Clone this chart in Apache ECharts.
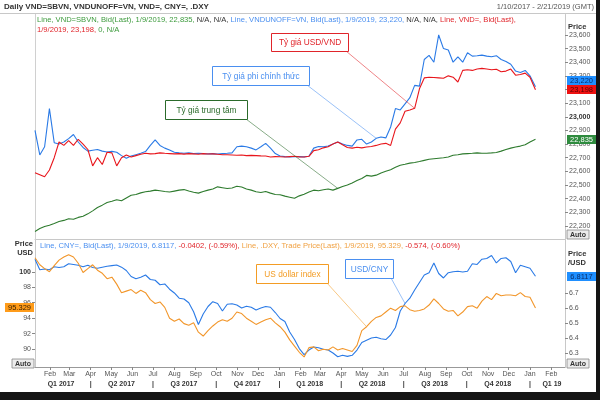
<!DOCTYPE html>
<html><head><meta charset="utf-8">
<script src="https://cdn.jsdelivr.net/npm/echarts@6/dist/echarts.min.js"></script>
<style>html,body{margin:0;padding:0;background:#fff}#c{width:600px;height:400px}</style>
</head><body><div id="c"></div><script>
const FONT = 'Liberation Sans';

// ---------- data (weekly readings) ----------
const dates = ['2017-01-10','2017-01-17','2017-01-24','2017-01-31','2017-02-07','2017-02-14','2017-02-21','2017-02-28','2017-03-07','2017-03-14','2017-03-21','2017-03-28','2017-04-04','2017-04-11','2017-04-18','2017-04-25','2017-05-02','2017-05-09','2017-05-16','2017-05-23','2017-05-30','2017-06-06','2017-06-13','2017-06-20','2017-06-27','2017-07-04','2017-07-11','2017-07-18','2017-07-25','2017-08-01','2017-08-08','2017-08-15','2017-08-22','2017-08-29','2017-09-05','2017-09-12','2017-09-19','2017-09-26','2017-10-03','2017-10-10','2017-10-17','2017-10-24','2017-10-31','2017-11-07','2017-11-14','2017-11-21','2017-11-28','2017-12-05','2017-12-12','2017-12-19','2017-12-26',
'2018-01-02','2018-01-09','2018-01-16','2018-01-23','2018-01-30','2018-02-06','2018-02-13','2018-02-20','2018-02-27','2018-03-06','2018-03-13','2018-03-20','2018-03-27','2018-04-03','2018-04-10','2018-04-17','2018-04-24','2018-05-01','2018-05-08','2018-05-15','2018-05-22','2018-05-29','2018-06-05','2018-06-12','2018-06-19','2018-06-26','2018-07-03','2018-07-10','2018-07-17','2018-07-24','2018-07-31','2018-08-07','2018-08-14','2018-08-21','2018-08-28','2018-09-04','2018-09-11','2018-09-18','2018-09-25','2018-10-02','2018-10-09','2018-10-16','2018-10-23','2018-10-30','2018-11-06','2018-11-13','2018-11-20','2018-11-27','2018-12-04','2018-12-11','2018-12-18','2018-12-25',
'2019-01-01','2019-01-09'];

// VND=SBVN  (Tỷ giá trung tâm)
const centralRate = [22159,22180,22195,22205,22218,22232,22240,22252,22248,22262,
22270,22288,22310,22335,22352,22371,22380,22392,22384,22405,
22425,22430,22442,22450,22455,22462,22458,22452,22448,22455,
22462,22466,22455,22446,22440,22452,22462,22470,22486,22480,
22474,22478,22490,22485,22470,22462,22450,22445,22452,22440,
22430,22428,22418,22410,22402,22420,22432,22448,22462,22458,
22465,22470,22462,22475,22488,22500,22515,22532,22548,22570,
22565,22572,22588,22600,22612,22630,22645,22652,22660,22665,
22672,22680,22688,22692,22696,22700,22705,22718,22722,22728,
22730,22732,22735,22732,22733,22735,22738,22748,22760,22770,
22778,22785,22795,22815,22835];

// VNDUNOFF=VN  (Tỷ giá phi chính thức)
const unofficialRate = [22900,22720,22780,23060,22810,22800,22815,22840,22870,22815,
22775,22748,22755,22760,22748,22742,22746,22740,22715,22696,
22712,22722,22732,22745,22790,22830,22790,22770,22757,22740,
22735,22732,22735,22730,22733,22730,22728,22730,22727,22730,
22732,22735,22780,22785,22780,22770,22757,22780,22805,22770,
22730,22712,22708,22705,22707,22708,22706,22710,22770,22782,
22780,22786,22800,22815,22800,22790,22785,22830,22835,22800,
22815,22842,22852,22845,22925,23060,23050,23095,23140,23230,
23225,23420,23450,23400,23600,23500,23490,23400,23440,23400,
23470,23445,23448,23452,23445,23440,23448,23420,23405,23385,
23335,23325,23340,23300,23220];

// VND=  (Tỷ giá USD/VND)
const interbankRate = [22590,22575,22560,22610,22700,22815,22790,22825,22790,22835,
22800,22760,22640,22700,22650,22740,22735,22640,22700,22720,
22705,22715,22725,22732,22728,22730,22735,22732,22730,22728,
22730,22726,22730,22728,22725,22730,22727,22728,22725,22722,
22722,22720,22718,22720,22715,22717,22715,22713,22712,22705,
22708,22707,22705,22708,22710,22706,22705,22710,22752,22758,
22772,22780,22800,22815,22795,22775,22770,22776,22772,22778,
22782,22790,22800,22805,22790,22910,22955,23040,23050,23062,
23205,23285,23290,23288,23285,23282,23300,23290,23255,23340,
23345,23340,23350,23355,23350,23345,23348,23330,23335,23350,
23305,23310,23320,23290,23198];

// CNY=  (USD/CNY)
const usdCny = [6.925,6.855,6.86,6.855,6.875,6.87,6.875,6.895,6.89,6.885,
6.875,6.885,6.87,6.865,6.872,6.878,6.882,6.886,6.872,6.85,
6.81,6.795,6.805,6.82,6.79,6.785,6.755,6.76,6.725,6.70,
6.665,6.66,6.635,6.575,6.49,6.56,6.61,6.642,6.63,6.58,
6.625,6.628,6.62,6.60,6.612,6.605,6.587,6.60,6.61,6.605,
6.57,6.53,6.51,6.44,6.39,6.33,6.29,6.32,6.34,6.335,
6.325,6.32,6.30,6.275,6.285,6.278,6.285,6.32,6.37,6.385,
6.40,6.405,6.395,6.39,6.42,6.47,6.58,6.63,6.665,6.72,
6.77,6.82,6.835,6.90,6.83,6.80,6.835,6.842,6.845,6.84,
6.845,6.895,6.89,6.925,6.93,6.95,6.90,6.93,6.935,6.91,
6.835,6.885,6.875,6.865,6.8117];

// .DXY  (US dollar index)
const dollarIndex = [101.8,100.9,100.4,100.0,100.8,101.5,101.9,102.2,101.9,101.1,
99.9,100.4,100.9,100.2,99.8,99.1,99.3,98.4,97.3,97.5,
97.7,97.2,97.6,97.3,96.4,95.9,96.1,95.4,94.0,93.6,
93.9,93.3,93.1,93.4,92.2,91.7,92.4,93.0,93.5,93.8,
93.6,94.0,94.8,94.6,94.0,93.6,93.2,93.5,93.8,94.0,
93.4,92.9,92.2,91.2,90.4,89.6,89.0,90.2,90.3,89.8,
90.0,89.9,90.3,89.9,90.1,89.9,89.7,90.5,92.4,92.9,
93.6,94.1,94.3,94.8,95.3,95.0,95.5,95.6,95.1,94.9,
95.0,95.2,95.7,96.5,95.9,95.2,94.9,95.0,94.3,94.8,
95.5,95.6,95.3,96.2,96.8,96.4,97.2,96.9,97.0,97.0,
96.9,97.3,96.8,96.7,95.33];

// ---------- ticks / labels ----------
const monthTickDates = ['2017-02-01','2017-03-01','2017-04-01','2017-05-01','2017-06-01','2017-07-01','2017-08-01','2017-09-01','2017-10-01','2017-11-01','2017-12-01','2018-01-01','2018-02-01','2018-03-01','2018-04-01','2018-05-01','2018-06-01','2018-07-01','2018-08-01','2018-09-01','2018-10-01','2018-11-01','2018-12-01','2019-01-01','2019-02-01'];
const monthNames = ['Jan','Feb','Mar','Apr','May','Jun','Jul','Aug','Sep','Oct','Nov','Dec'];
const quarterSepDates = ['2017-04-01','2017-07-01','2017-10-01','2018-01-01','2018-04-01','2018-07-01','2018-10-01','2019-01-01'];
const quarterLabelDates = ['2017-02-17','2017-05-16','2017-08-15','2017-11-15','2018-02-14','2018-05-16','2018-08-15','2018-11-15','2019-02-02'];
const quarterLabelTexts = ['Q1 2017','Q2 2017','Q3 2017','Q4 2017','Q1 2018','Q2 2018','Q3 2018','Q4 2018','Q1 19'];
const vndTicks = [22200,22300,22400,22500,22600,22700,22800,22900,23000,23100,23200,23300,23400,23500,23600];
const dxyTicks = [90,92,94,96,98,100];
const cnyTicks = [6.3,6.4,6.5,6.6,6.7];
const lastLabels = { central:'22,835', unofficial:'23,220', interbank:'23,198', cny:'6.8117', dxy:'95.329' };
const rangeStart = '2017-01-10', rangeEnd = '2019-02-21';

// ---------- helpers ----------
const ts = s => { const p = s.split('-').map(Number); return Date.UTC(p[0], p[1]-1, p[2]); };
const pairs = arr => dates.map((d, i) => [ts(d), arr[i]]);
const last = arr => arr[arr.length - 1];
const monthMap = new Map(monthTickDates.map(d => [ts(d), monthNames[+d.slice(5,7)-1]]));
const quarterMap = new Map();
quarterSepDates.forEach(d => quarterMap.set(ts(d), '|'));
quarterLabelDates.forEach((d, i) => quarterMap.set(ts(d), quarterLabelTexts[i]));

const C = { green:'#2e7b2e', blue:'#2a7ae6', red:'#e8161c', orange:'#f2962a' };
const axisTxt = { fontFamily: FONT, fontSize: 7, color: '#555' };
const LF = 7.6;

const chart = echarts.init(document.getElementById('c'), null, { renderer: 'canvas' });
const xMin = ts(rangeStart), xMax = ts(rangeEnd);
const monthVals = monthTickDates.map(ts);

const option = {
  animation: false,
  backgroundColor: '#fff',
  title: [
    { left: 37, top: 15, padding: 0,
      text: '{g|Line, VND=SBVN, Bid(Last), 1/9/2019, 22,835,} {k|N/A, N/A,} {b|Line, VNDUNOFF=VN, Bid(Last), 1/9/2019, 23,220,} {k|N/A, N/A,} {r|Line, VND=, Bid(Last),}\n{r|1/9/2019, 23,198,} {g|0, N/A}',
      textStyle: { fontFamily: FONT, fontSize: LF, lineHeight: 10, fontWeight: 'normal',
        rich: { g:{color:'#3c9a3c',fontFamily:FONT,fontSize:LF,lineHeight:10}, k:{color:'#333',fontFamily:FONT,fontSize:LF,lineHeight:10},
                b:{color:'#4a8ff0',fontFamily:FONT,fontSize:LF,lineHeight:10}, r:{color:'#e0242a',fontFamily:FONT,fontSize:LF,lineHeight:10} } } },
    { left: 40, top: 242, padding: 0,
      text: '{b|Line, CNY=, Bid(Last), 1/9/2019, 6.8117,} {r|-0.0402, (-0.59%),} {o|Line, .DXY, Trade Price(Last), 1/9/2019, 95.329,} {r|-0.574, (-0.60%)}',
      textStyle: { fontFamily: FONT, fontSize: LF, fontWeight: 'normal',
        rich: { b:{color:'#4a8ff0',fontFamily:FONT,fontSize:LF}, r:{color:'#e0242a',fontFamily:FONT,fontSize:LF},
                o:{color:'#f0a040',fontFamily:FONT,fontSize:LF} } } }
  ],
  grid: [
    { left: 35, right: 35, top: 14.5, height: 225 },
    { left: 35, right: 35, top: 240, height: 127 }
  ],
  xAxis: [
    { type:'value', gridIndex:0, min:xMin, max:xMax,
      axisLine:{ show:true, lineStyle:{ color:'#c8c8c8' } }, axisTick:{show:false}, axisLabel:{show:false}, splitLine:{show:false} },
    { type:'value', gridIndex:1, min:xMin, max:xMax,
      axisLine:{ show:true, lineStyle:{ color:'#999' } },
      axisTick:{ show:true, length:3, customValues: monthVals, lineStyle:{color:'#888'} },
      axisLabel:{ show:true, customValues: monthVals, hideOverlap:false, margin:4,
        formatter: v => monthMap.get(v) || '', ...axisTxt },
      splitLine:{show:false} },
    { type:'value', gridIndex:1, min:xMin, max:xMax, position:'bottom', offset:10,
      axisLine:{show:false}, axisTick:{show:false}, splitLine:{show:false},
      axisLabel:{ show:true, customValues: quarterSepDates.concat(quarterLabelDates).map(ts), hideOverlap:false, margin:4,
        formatter: v => quarterMap.get(v) || '', fontFamily:FONT, fontSize:7, fontWeight:'bold', color:'#333' } }
  ],
  yAxis: [
    { type:'value', gridIndex:0, position:'right', min:22100, max:23750,
      axisLine:{ show:true, lineStyle:{color:'#c8c8c8'} },
      axisTick:{ show:true, length:3, customValues: vndTicks, lineStyle:{color:'#888'} },
      axisLabel:{ show:true, customValues: vndTicks, margin:4,
        formatter: v => v === 23000 ? '{b|23,000}' : v.toLocaleString('en-US'),
        rich:{ b:{ fontWeight:'bold', color:'#333', fontFamily:FONT, fontSize:7 } }, ...axisTxt },
      splitLine:{show:false} },
    { type:'value', gridIndex:1, position:'left', min:87.7, max:104.1,
      axisLine:{ show:true, lineStyle:{color:'#c8c8c8'} },
      axisTick:{ show:true, length:3, customValues: dxyTicks, lineStyle:{color:'#888'} },
      axisLabel:{ show:true, customValues: dxyTicks, margin:4,
        formatter: v => v === 100 ? '{b|100}' : String(v),
        rich:{ b:{ fontWeight:'bold', color:'#333', fontFamily:FONT, fontSize:7 } }, ...axisTxt },
      splitLine:{show:false} },
    { type:'value', gridIndex:1, position:'right', min:6.207, max:7.053,
      axisLine:{ show:true, lineStyle:{color:'#c8c8c8'} },
      axisTick:{ show:true, length:3, customValues: cnyTicks, lineStyle:{color:'#888'} },
      axisLabel:{ show:true, customValues: cnyTicks, margin:4, formatter: v => v.toFixed(1), ...axisTxt },
      splitLine:{show:false} }
  ],
  series: [
    { name:'VND=SBVN', type:'line', xAxisIndex:0, yAxisIndex:0, data: pairs(centralRate), showSymbol:false,
      lineStyle:{ color:C.green, width:1.1 }, itemStyle:{color:C.green} },
    { name:'VNDUNOFF=VN', type:'line', xAxisIndex:0, yAxisIndex:0, data: pairs(unofficialRate), showSymbol:false,
      lineStyle:{ color:C.blue, width:1.1 }, itemStyle:{color:C.blue} },
    { name:'VND=', type:'line', xAxisIndex:0, yAxisIndex:0, data: pairs(interbankRate), showSymbol:false,
      lineStyle:{ color:C.red, width:1.1 }, itemStyle:{color:C.red} },
    { name:'CNY=', type:'line', xAxisIndex:1, yAxisIndex:2, data: pairs(usdCny), showSymbol:false,
      lineStyle:{ color:C.blue, width:1.1 }, itemStyle:{color:C.blue} },
    { name:'.DXY', type:'line', xAxisIndex:1, yAxisIndex:1, data: pairs(dollarIndex), showSymbol:false,
      lineStyle:{ color:C.orange, width:1.1 }, itemStyle:{color:C.orange} }
  ]
};
chart.setOption(option);

const g = [];
// frame
g.push({ type:'rect', shape:{x:0,y:392,width:600,height:8}, style:{fill:'#151515'}, z:0 });
g.push({ type:'rect', shape:{x:596,y:0,width:4,height:400}, style:{fill:'#151515'}, z:0 });
g.push({ type:'line', shape:{x1:0,y1:13.5,x2:596,y2:13.5}, style:{stroke:'#c8c8c8', lineWidth:1}, z:1 });
g.push({ type:'line', shape:{x1:35.5,y1:14,x2:35.5,y2:240}, style:{stroke:'#d0d0d0', lineWidth:1}, z:1 });
// header
g.push({ type:'text', x:4, y:7, style:{ text:'Daily VND=SBVN, VNDUNOFF=VN, VND=, CNY=, .DXY', fill:'#333', font:'bold 8px "'+FONT+'"', textVerticalAlign:'middle' } });
g.push({ type:'text', x:594, y:7, style:{ text:'1/10/2017 - 2/21/2019 (GMT)', fill:'#555', font:'7.5px "'+FONT+'"', textAlign:'right', textVerticalAlign:'middle' } });
g.push({ type:'text', x:568, y:27, style:{ text:'Price', fill:'#333', font:'bold 7.5px "'+FONT+'"', textVerticalAlign:'middle' } });
g.push({ type:'text', x:568, y:249, style:{ text:'Price\n/USD', fill:'#333', font:'bold 7.5px "'+FONT+'"', lineHeight:9 } });
g.push({ type:'text', x:33, y:239, style:{ text:'Price\nUSD', fill:'#333', font:'bold 7.5px "'+FONT+'"', textAlign:'right', lineHeight:9 } });
[[567,230],[12,359],[567,359]].forEach(p => {
  g.push({ type:'rect', shape:{x:p[0],y:p[1],width:22,height:9}, style:{fill:'#ececec', stroke:'#888', lineWidth:0.8}, z:5 });
  g.push({ type:'text', x:p[0]+11, y:p[1]+4.8, style:{ text:'Auto', fill:'#333', font:'bold 7px "'+FONT+'"', textAlign:'center', textVerticalAlign:'middle' }, z:6 });
});

// last-value badges on the axes, placed from the data through the axes
const yPix = (axes, v) => chart.convertToPixel({ xAxisIndex:axes[0], yAxisIndex:axes[1] }, [xMax, v])[1];
function addBadge(yc, x, align, txt, bg, fg) {
  const w = 29, h = 9;
  const left = align === 'left' ? x : x - w;
  g.push({ type:'rect', shape:{ x:left, y:Math.round(yc - h/2), width:w, height:h }, style:{ fill:bg }, z:30 });
  g.push({ type:'text', x:left + w/2, y:Math.round(yc - h/2) + h/2 + 0.5, style:{ text:txt, fill:fg, font:'7.5px "'+FONT+'"', textAlign:'center', textVerticalAlign:'middle' }, z:31 });
}
const yRed = yPix([0,0], last(interbankRate));
const yBlue = Math.min(yPix([0,0], last(unofficialRate)), yRed - 9);
addBadge(yBlue, 567, 'left', lastLabels.unofficial, '#1f8fff', '#0b2f6b');
addBadge(yRed, 567, 'left', lastLabels.interbank, '#ee1111', '#5a0000');
addBadge(yPix([0,0], last(centralRate)), 567, 'left', lastLabels.central, '#2e8b3e', '#fff');
addBadge(yPix([1,2], last(usdCny)), 567, 'left', lastLabels.cny, '#1f8fff', '#0b2f6b');
addBadge(yPix([1,1], last(dollarIndex)), 34, 'right', lastLabels.dxy, '#ff9c1a', '#3a2000');

// callout boxes with leader lines to a data point
const notes = [
  { text:'Tỷ giá USD/VND', color:'#e0242a', box:[271,33,77,18], from:[346,51], axes:[0,0], arr:interbankRate, idx:79 },
  { text:'Tỷ giá phi chính thức', color:'#4a8ff0', box:[212,66,97,19], from:[307,85], axes:[0,0], arr:unofficialRate, idx:71 },
  { text:'Tỷ giá trung tâm', color:'#2a6a2a', box:[165,100,82,19], from:[246,119], axes:[0,0], arr:centralRate, idx:63 },
  { text:'US dollar index', color:'#f39c24', box:[256,264,72,19], from:[327,283], axes:[1,1], arr:dollarIndex, idx:69 },
  { text:'USD/CNY', color:'#4a8ff0', box:[345,259,48,19], from:[391,278], axes:[1,2], arr:usdCny, idx:77 }
];
notes.forEach(n => {
  const pt = chart.convertToPixel({ xAxisIndex:n.axes[0], yAxisIndex:n.axes[1] }, [ts(dates[n.idx]), n.arr[n.idx]]);
  g.push({ type:'line', shape:{ x1:n.from[0], y1:n.from[1], x2:pt[0], y2:pt[1] }, style:{ stroke:n.color, lineWidth:0.7, opacity:0.8 }, z:20 });
  g.push({ type:'rect', shape:{ x:n.box[0]+0.5, y:n.box[1]+0.5, width:n.box[2], height:n.box[3] }, style:{ fill:'#fff', stroke:n.color, lineWidth:1 }, z:21 });
  g.push({ type:'text', x:n.box[0]+n.box[2]/2+0.5, y:n.box[1]+n.box[3]/2+1, style:{ text:n.text, fill:n.color, font:'8.3px "'+FONT+'"', textAlign:'center', textVerticalAlign:'middle' }, z:22 });
});
chart.setOption({ graphic: g });
</script></body></html>
